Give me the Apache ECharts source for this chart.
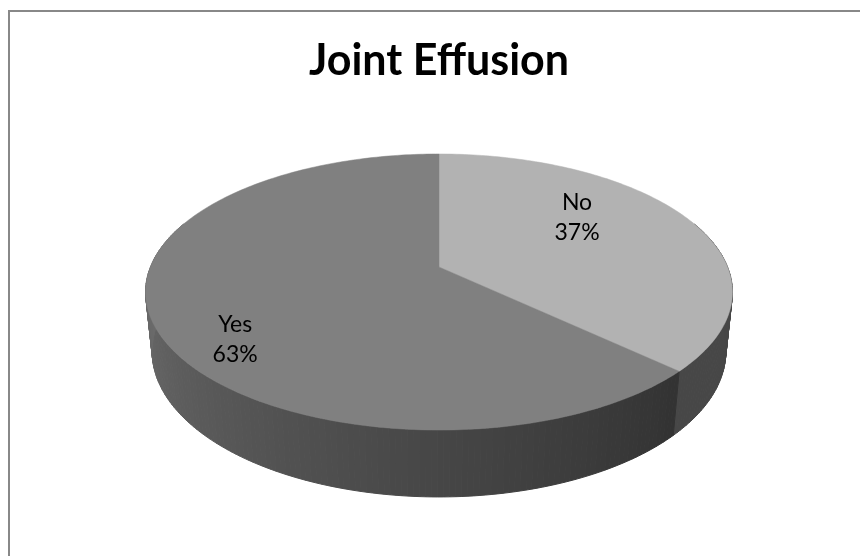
<!DOCTYPE html>
<html>
<head>
<meta charset="utf-8">
<title>Joint Effusion</title>
<script src="https://cdn.jsdelivr.net/npm/echarts@6/dist/echarts.min.js"></script>
<style>
    html, body { margin: 0; padding: 0; background: #fff; }
    #chart { width: 860px; height: 556px; }
</style>
</head>
<body>
<div id="chart"></div>
<script>
    var titleText = 'Joint Effusion';
    var names = ['No', 'Yes'];
    var values = [37, 63];

    var topColors = ['#b2b2b2', '#808080'];
    // label placement inside each slice (angle nudge in degrees, radius 0..1)
    var labelNudge = [-14.5, -14];
    var labelRadius = [0.65, 0.81];

    var total = values.reduce(function (a, b) { return a + b; }, 0);
    var angles = [];
    var acc = 0;
    values.forEach(function (v) {
        angles.push([acc / total * 360, (acc + v) / total * 360]);
        acc += v;
    });

    // simple perspective camera looking down on a flat disc
    var cam = { cx: 439, cy: 267, F: 1412, L: 4.893, sin: 0.4626, cos: 0.8866, depth: 0.234 };

    function proj(deg, r, drop) {
        var t = deg * Math.PI / 180;
        var u = r * Math.sin(t), v = r * Math.cos(t);
        var yc = v * cam.sin - drop * cam.cos;
        var zc = cam.L + v * cam.cos + drop * cam.sin;
        return [cam.cx + cam.F * u / zc, cam.cy - cam.F * yc / zc];
    }

    function shade(hex, f) {
        var n = parseInt(hex.slice(1), 16);
        var r = Math.round(((n >> 16) & 255) * f);
        var g = Math.round(((n >> 8) & 255) * f);
        var b = Math.round((n & 255) * f);
        return 'rgb(' + r + ',' + g + ',' + b + ')';
    }

    function sideFactor(deg) {
        var f = 0.40 + 0.0033 * (deg - 135);
        return Math.max(0.40, Math.min(0.9, f));
    }

    var chart = echarts.init(document.getElementById('chart'), null, { renderer: 'canvas' });

    var option = {
        backgroundColor: '#ffffff',
        animation: false,
        graphic: [
            {
                type: 'rect',
                silent: true,
                shape: { x: 9, y: 11, width: 900, height: 600 },
                style: { fill: 'none', stroke: '#888888', lineWidth: 2 }
            },
            {
                type: 'text',
                silent: true,
                x: 439,
                y: 61,
                style: {
                    text: titleText,
                    fill: '#000000',
                    fontFamily: 'Lato',
                    fontWeight: 'bold',
                    fontSize: 43,
                    align: 'center',
                    verticalAlign: 'middle'
                }
            }
        ],
        series: [
            {
                // side walls
                type: 'custom',
                coordinateSystem: 'none',
                z: 2,
                silent: true,
                data: values,
                renderItem: function (params, api) {
                    var i = params.dataIndex;
                    var a = angles[i];
                    var lo = Math.max(a[0], 70), hi = Math.min(a[1], 290);
                    var children = [];
                    for (var t = lo; t < hi; t += 1) {
                        var t2 = Math.min(t + 1, hi);
                        var pts = [proj(t, 1, 0), proj(t2, 1, 0), proj(t2, 1, cam.depth), proj(t, 1, cam.depth)];
                        var c = shade(topColors[i], sideFactor((t + t2) / 2));
                        children.push({
                            type: 'polygon',
                            shape: { points: pts },
                            style: { fill: c, stroke: c, lineWidth: 1 }
                        });
                    }
                    return { type: 'group', children: children };
                }
            },
            {
                // top faces + labels
                type: 'custom',
                coordinateSystem: 'none',
                z: 3,
                silent: true,
                data: values,
                renderItem: function (params, api) {
                    var i = params.dataIndex;
                    var a = angles[i];
                    var pts = [proj(0, 0, 0)];
                    for (var t = a[0]; t < a[1]; t += 1) pts.push(proj(t, 1, 0));
                    pts.push(proj(a[1], 1, 0));
                    var mid = (a[0] + a[1]) / 2 + labelNudge[i];
                    var lp = proj(mid, labelRadius[i], 0);
                    var pct = Math.round(values[i] / total * 100) + '%';
                    return {
                        type: 'group',
                        children: [
                            {
                                type: 'polygon',
                                shape: { points: pts },
                                style: { fill: topColors[i], stroke: topColors[i], lineWidth: 0.5 }
                            },
                            {
                                type: 'text',
                                z2: 10,
                                x: lp[0],
                                y: lp[1],
                                style: {
                                    text: names[i] + '\n' + pct,
                                    fill: '#000000',
                                    fontFamily: 'Lato',
                                    fontSize: 23,
                                    lineHeight: 30,
                                    align: 'center',
                                    verticalAlign: 'middle'
                                }
                            }
                        ]
                    };
                }
            }
        ]
    };

    chart.setOption(option);
</script>
</body>
</html>
